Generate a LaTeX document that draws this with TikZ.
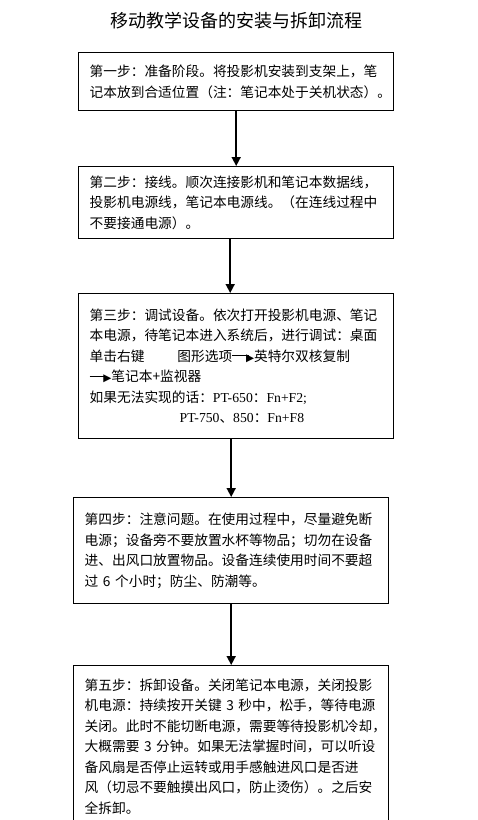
\documentclass[tikz,border=0pt]{standalone}
\usepackage{fontspec}
\setmainfont{Noto Sans CJK SC}
\newfontfamily\ptfont{Liberation Serif}
\newfontfamily\arrowfont{DejaVu Sans}
\usepackage{tikz}
\usetikzlibrary{arrows.meta}

\newcommand{\inarrow}{\rule[0.36em]{1.2em}{1.2pt}\kern-0.2em{\arrowfont\fontsize{10.5}{10.5}\selectfont ▶}}

\tikzset{
  stepbox/.style={draw, line width=1.4pt, anchor=north west, align=left,
    text width=293pt, inner xsep=11pt, inner ysep=4pt,
    font=\fontsize{13.7}{20.5}\selectfont},
  flow/.style={-{Triangle[width=9pt, length=9pt]}, line width=1.6pt}
}

\begin{document}
\begin{tikzpicture}[x=1pt, y=-1pt]
    \useasboundingbox[fill=white] (0,0) rectangle (477,820);
    \node (title) at (236,21) {\fontsize{18}{18}\selectfont 移动教学设备的安装与拆卸流程};

    \node[stepbox, minimum height=58] (s1) at (78,52) {%
      第一步：准备阶段。将投影机安装到支架上，笔\\
      记本放到合适位置（注：笔记本处于关机状态）。};
    \node[stepbox, minimum height=72] (s2) at (78,166) {%
      第二步：接线。顺次连接影机和笔记本数据线，\\
      投影机电源线，笔记本电源线。（在连线过程中\\
      不要接通电源）。};
    \node[stepbox, minimum height=145] (s3) at (78,293) {%
      第三步：调试设备。依次打开投影机电源、笔记\\
      本电源，待笔记本进入系统后，进行调试：桌面\\
      单击右键\hspace{33pt}图形选项\inarrow 英特尔双核复制\\
      \inarrow 笔记本+监视器\\
      如果无法实现的话：{\ptfont PT-650}：{\ptfont Fn+F2;}\\
      \hspace{90pt}{\ptfont PT-750}、{\ptfont 850}：{\ptfont Fn+F8}};
    \node[stepbox, minimum height=106] (s4) at (73,497) {%
      第四步：注意问题。在使用过程中，尽量避免断\\
      电源；设备旁不要放置水杯等物品；切勿在设备\\
      进、出风口放置物品。设备连续使用时间不要超\\
      过 6 个小时；防尘、防潮等。};
    \node[stepbox, minimum height=162] (s5) at (73,665) {%
      第五步：拆卸设备。关闭笔记本电源，关闭投影\\
      机电源：持续按开关键 3 秒中，松手，等待电源\\
      关闭。此时不能切断电源，需要等待投影机冷却，\\
      大概需要 3 分钟。如果无法掌握时间，可以听设\\
      备风扇是否停止运转或用手感触进风口是否进\\
      风（切忌不要触摸出风口，防止烫伤）。之后安\\
      全拆卸。};

    \draw[flow] (s1) -- (s2);
    \draw[flow] ([xshift=-6pt]s2.south) -- ([xshift=-6pt]s3.north);
    \draw[flow] (s4.north |- s3.south) -- (s4.north);
    \draw[flow] (s4.south) -- (s5.north);
  \end{tikzpicture}
\end{document}
